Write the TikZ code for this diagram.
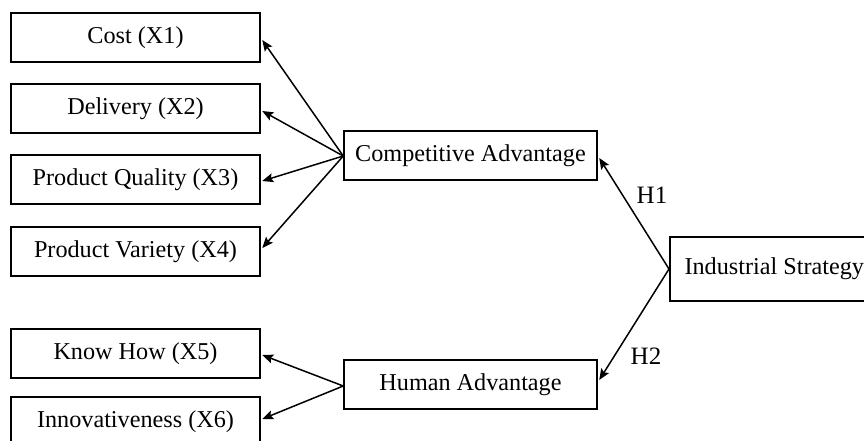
\documentclass[tikz,border=0pt]{standalone}
\usepackage{fontspec}
\setmainfont{Liberation Serif}
\usetikzlibrary{arrows.meta}
\begin{document}
\begin{tikzpicture}[x=1pt,y=-1pt,
  box/.style={draw, line width=1.5pt, minimum height=49pt, inner sep=0pt, font=\fontsize{24.2}{29}\selectfont},
  leftbox/.style={box, minimum width=249pt},
  midbox/.style={box, minimum width=253pt},
  arr/.style={line width=1.5pt, -{Stealth[length=11pt,width=9pt,inset=2pt]}},
  hlab/.style={font=\fontsize{25}{30}\selectfont, inner sep=0pt}]
\useasboundingbox (0,0) rectangle (864,441);
\clip (0,0) rectangle (864,441);
\node[leftbox] (b1) at (135.5,37.5) {Cost (X1)};
\node[leftbox] (b2) at (135.5,108.5) {Delivery (X2)};
\node[leftbox] (b3) at (135.5,179.5) {Product Quality (X3)};
\node[leftbox] (b4) at (135.5,251.5) {Product Variety (X4)};
\node[leftbox] (b5) at (135.5,353.5) {Know How (X5)};
\node[leftbox] (b6) at (135.5,421.5) {Innovativeness (X6)};
\node[midbox] (ca) at (470.5,155.5) {Competitive Advantage};
\node[midbox] (ha) at (470.5,384.5) {Human Advantage};
\node[box, minimum width=200pt, minimum height=64pt, anchor=west] (is) at (669,269) {\hspace{9pt}Industrial Strategy\hspace*{\fill}};
\draw[arr] ([yshift=-0.5pt]ca.west) -- ([xshift=1.5pt,yshift=-2.5pt]b1.east);
\draw[arr] ([yshift=-0.5pt]ca.west) -- ([xshift=1.5pt,yshift=-2.5pt]b2.east);
\draw[arr] ([yshift=-0.5pt]ca.west) -- ([xshift=1.5pt,yshift=-1.5pt]b3.east);
\draw[arr] ([yshift=-0.5pt]ca.west) -- ([xshift=1.5pt,yshift=3.5pt]b4.east);
\draw[arr] ([yshift=-1.5pt]ha.west) -- ([xshift=1.5pt,yshift=-1.5pt]b5.east);
\draw[arr] ([yshift=-1.5pt]ha.west) -- ([xshift=1.5pt,yshift=2.5pt]b6.east);
\draw[arr] (is.west) -- ([xshift=1.5pt,yshift=-2.5pt]ca.east);
\draw[arr] (is.west) -- ([xshift=1.5pt,yshift=4.5pt]ha.east);
\node[hlab] (h1) at (652,195) {H1};
\node[hlab] (h2) at (646,356) {H2};
\end{tikzpicture}
\end{document}
